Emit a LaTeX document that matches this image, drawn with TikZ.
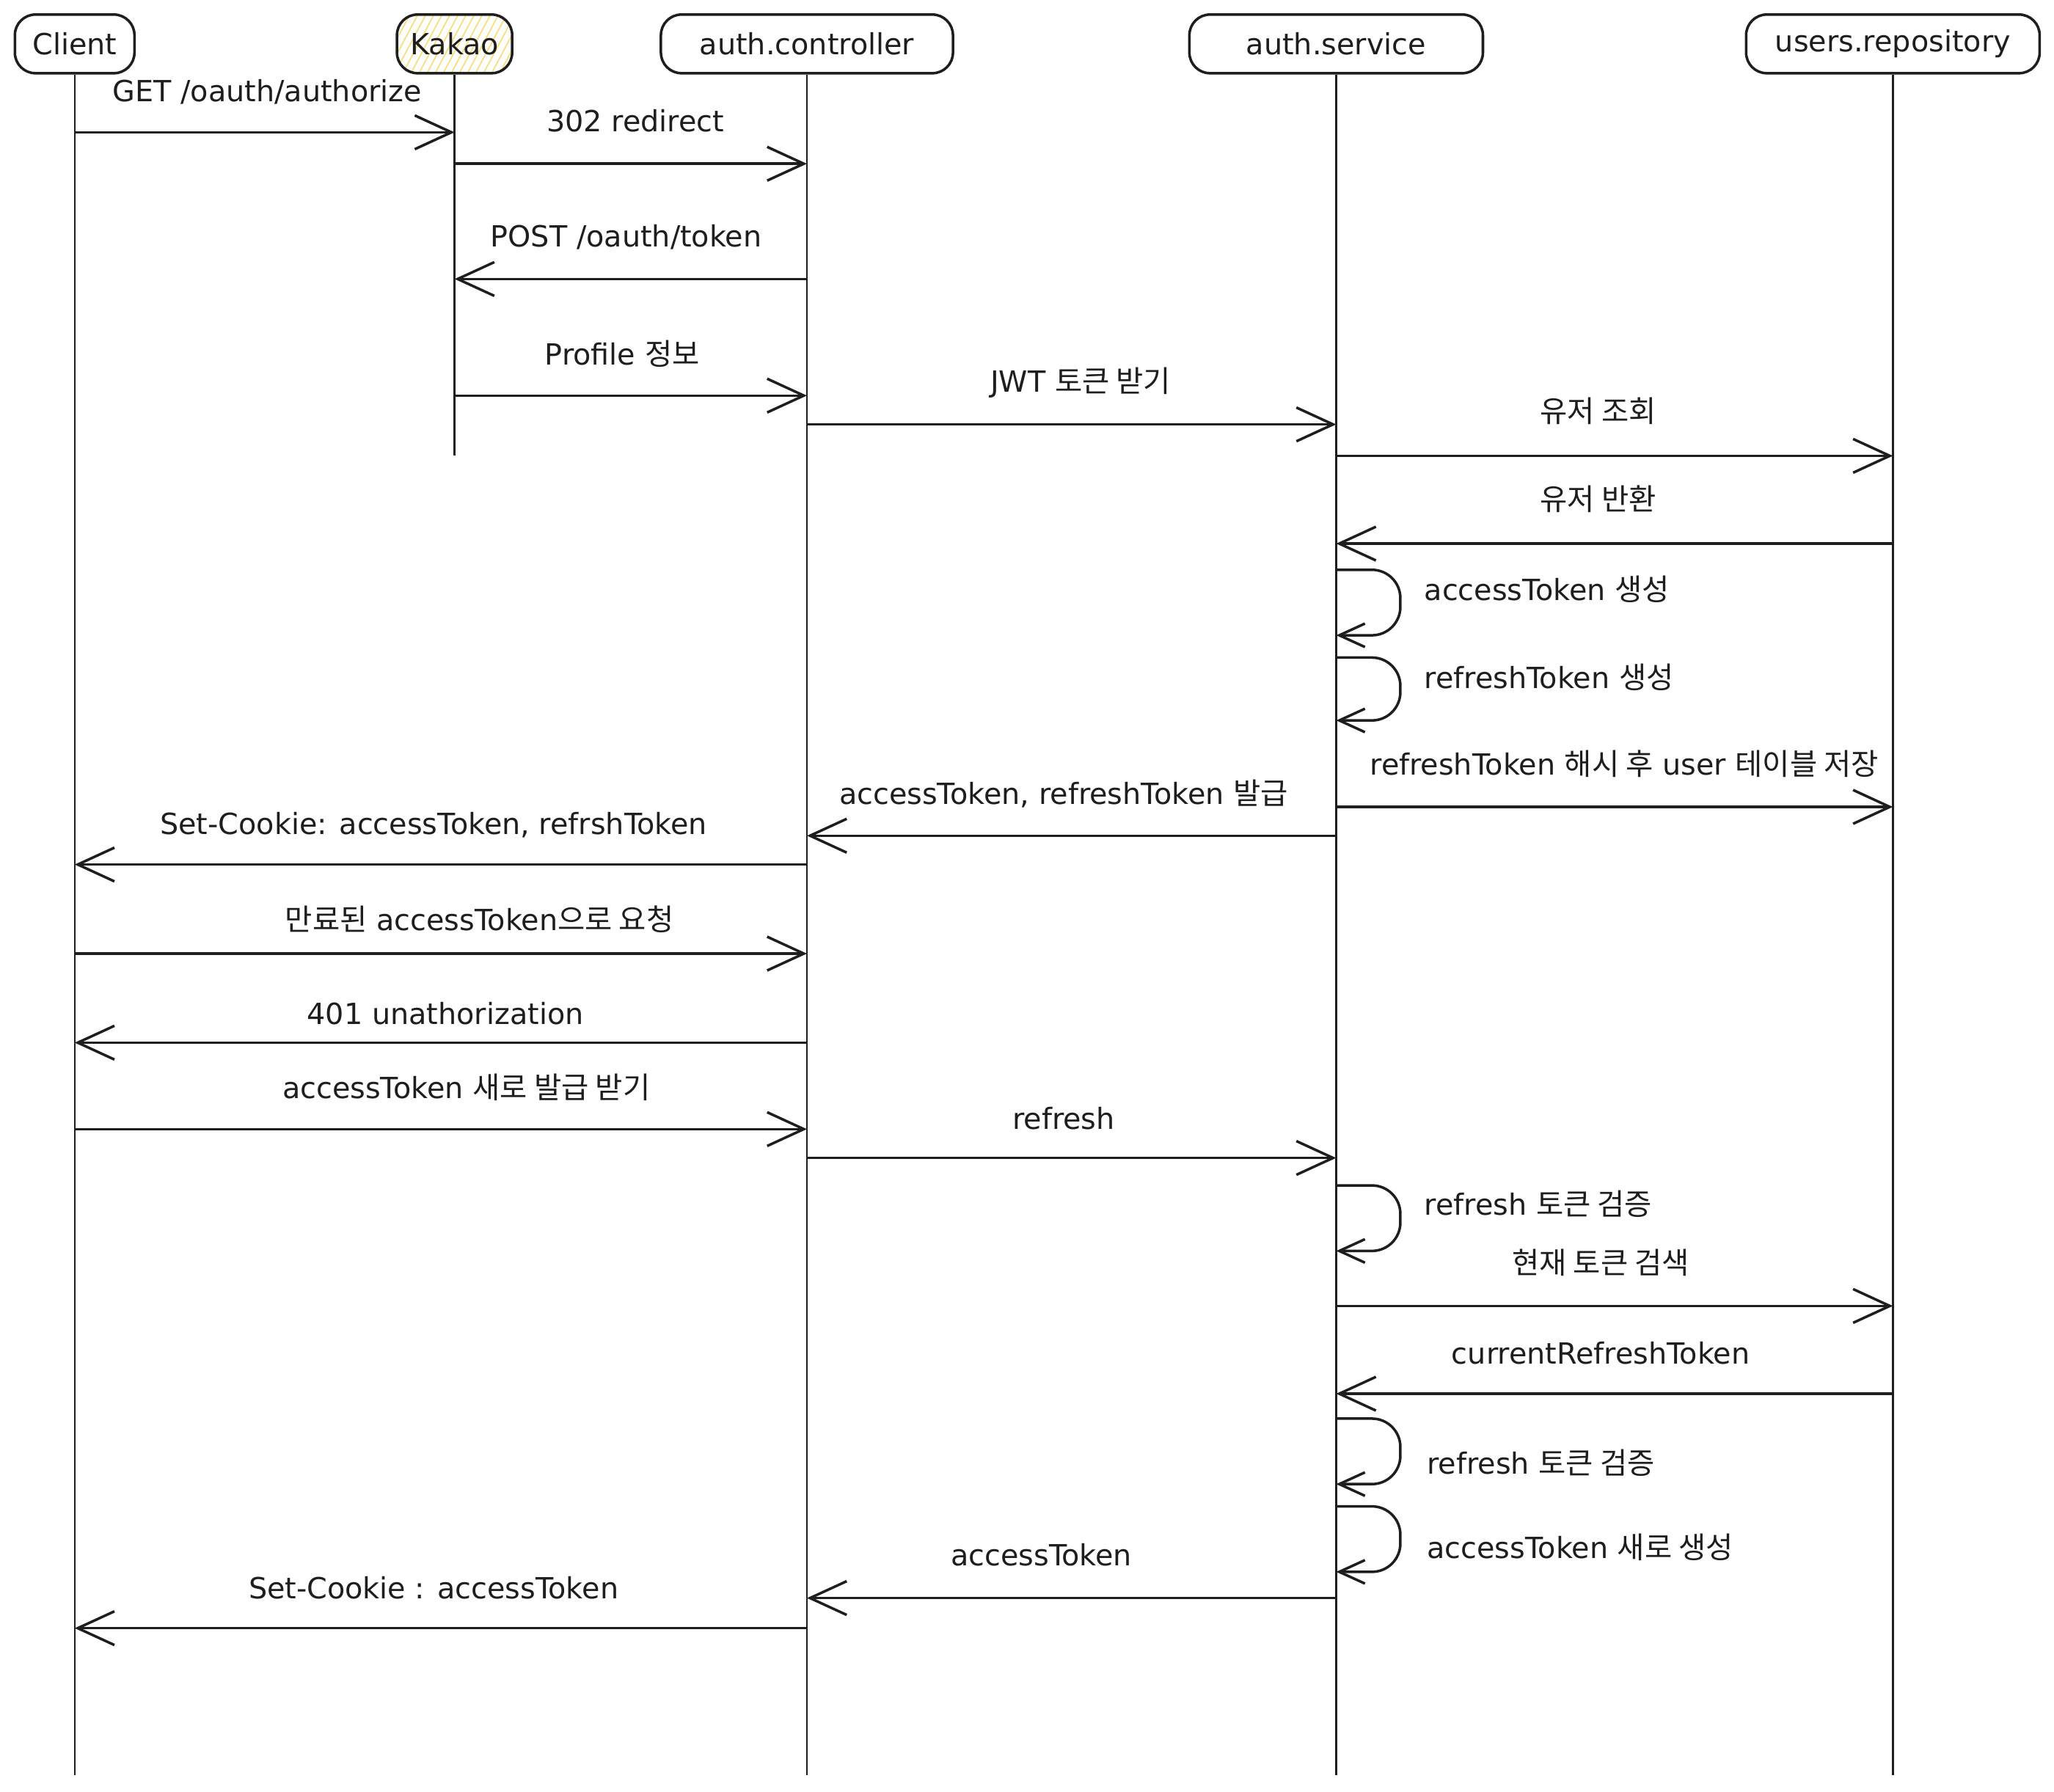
\documentclass[tikz,border=0pt]{standalone}
\usepackage{fontspec}
\setmainfont{DejaVu Sans}
\newfontfamily\kr{Noto Sans CJK KR}[Scale=1.02]
\usetikzlibrary{arrows.meta}
\definecolor{ink}{HTML}{1E1E1E}
\definecolor{hatchc}{HTML}{F7DE7E}
\tikzset{
  actor/.style={draw=ink, line width=1pt, rounded corners=8pt, minimum height=0.8cm,
    font=\fontsize{11.3pt}{13pt}\selectfont, text=ink, inner sep=0pt, fill=white},
  life/.style={draw=ink, line width=0.7pt},
  msg/.style={draw=ink, line width=1pt, -{Straight Barb[length=5mm, width=4.6mm]}},
  selfmsg/.style={draw=ink, line width=1pt, rounded corners=11pt, -{Straight Barb[length=3.5mm, width=3.2mm]}},
  lbl/.style={font=\fontsize{11.3pt}{13pt}\selectfont, text=ink, inner sep=0pt},
}
\newcommand\msgline[3]{\draw[msg] (#1.south |- 0,#3) -- (#2.south |- 0,#3);}
\newcommand\selfloop[2]{\draw[selfmsg] (svc.south |- 0,#1) -- ++(49,0) -- ++(0,#2-#1) -- ++(-49,0);}
\begin{document}
\begin{tikzpicture}[x=0.017857cm, y=-0.017857cm]
\useasboundingbox (0,0) rectangle (1568,1368);
\fill[white] (0,0) rectangle (1568,1368);
% participants
\node[actor, minimum width=1.63cm] (client) at (57,33.5) {Client};
\node[actor, minimum width=1.57cm,
  path picture={\foreach \i in {0,...,22}
     \draw[hatchc, line width=0.5pt] ([xshift=\i*1.1mm-8mm]path picture bounding box.south west) -- ++(62:2cm);}]
  (kakao) at (347,33.5) {Kakao};
\node[actor, minimum width=3.98cm] (ctrl) at (616,33.5) {auth.controller};
\node[actor, minimum width=4.0cm] (svc) at (1020,33.5) {auth.service};
\node[actor, minimum width=4.0cm] (repo) at (1445,33.5) {users.repository};
% lifelines
\coordinate (clientEnd) at (client.south |- 0,1355);
\coordinate (kakaoEnd) at (kakao.south |- 0,348);
\coordinate (ctrlEnd) at (ctrl.south |- 0,1355);
\coordinate (svcEnd) at (svc.south |- 0,1355);
\coordinate (repoEnd) at (repo.south |- 0,1355);
\draw[life] (client.south) -- (clientEnd);
\draw[life] (kakao.south) -- (kakaoEnd);
\draw[life] (ctrl.south) -- (ctrlEnd);
\draw[life] (svc.south) -- (svcEnd);
\draw[life] (repo.south) -- (repoEnd);
% messages
\msgline{client}{kakao}{101}
\msgline{kakao}{ctrl}{125}
\msgline{ctrl}{kakao}{213}
\msgline{kakao}{ctrl}{302}
\msgline{ctrl}{svc}{324}
\msgline{svc}{repo}{348}
\msgline{repo}{svc}{415}
\selfloop{435}{485}
\selfloop{502}{550}
\msgline{svc}{repo}{616}
\msgline{svc}{ctrl}{638}
\msgline{ctrl}{client}{660}
\msgline{client}{ctrl}{728}
\msgline{ctrl}{client}{796}
\msgline{client}{ctrl}{862}
\msgline{ctrl}{svc}{884}
\selfloop{905}{955}
\msgline{svc}{repo}{997}
\msgline{repo}{svc}{1064}
\selfloop{1083}{1133}
\selfloop{1150}{1200}
\msgline{svc}{ctrl}{1220}
\msgline{ctrl}{client}{1243}
% labels
\node[lbl] (l1) at (204,70) {GET /oauth/authorize};
\node[lbl] (l2) at (485,92) {302 redirect};
\node[lbl] (l3) at (478,181) {POST /oauth/token};
\node[lbl] (l4) at (475,270) {Profile {\kr 정보}};
\node[lbl] (l5) at (825,292) {JWT {\kr 토큰 받기}};
\node[lbl] (l6) at (1220,314) {\kr 유저 조회};
\node[lbl] (l7) at (1220,381) {\kr 유저 반환};
\node[lbl, anchor=west] (l8) at (1087,450) {accessToken {\kr 생성}};
\node[lbl, anchor=west] (l9) at (1087,517) {refreshToken {\kr 생성}};
\node[lbl] (l10) at (1240,583) {refreshToken {\kr 해시 후} user {\kr 테이블 저장}};
\node[lbl] (l11) at (812,606) {accessToken, refreshToken {\kr 발급}};
\node[lbl] (l12) at (331,630) {Set-Cookie: accessToken, refrshToken};
\node[lbl] (l13) at (366,702) {{\kr 만료된} accessToken{\kr 으로 요청}};
\node[lbl] (l14) at (340,774) {401 unathorization};
\node[lbl] (l15) at (356,830) {accessToken {\kr 새로 발급 받기}};
\node[lbl] (l16) at (812,854) {refresh};
\node[lbl, anchor=west] (l17) at (1087,919) {refresh {\kr 토큰 검증}};
\node[lbl] (l18) at (1222,964) {\kr 현재 토큰 검색};
\node[lbl] (l19) at (1222,1033) {currentRefreshToken};
\node[lbl, anchor=west] (l20) at (1089,1117) {refresh {\kr 토큰 검증}};
\node[lbl, anchor=west] (l21) at (1089,1181) {accessToken {\kr 새로 생성}};
\node[lbl] (l22) at (795,1187) {accessToken};
\node[lbl] (l23) at (331,1212) {Set-Cookie : accessToken};
\end{tikzpicture}
\end{document}
